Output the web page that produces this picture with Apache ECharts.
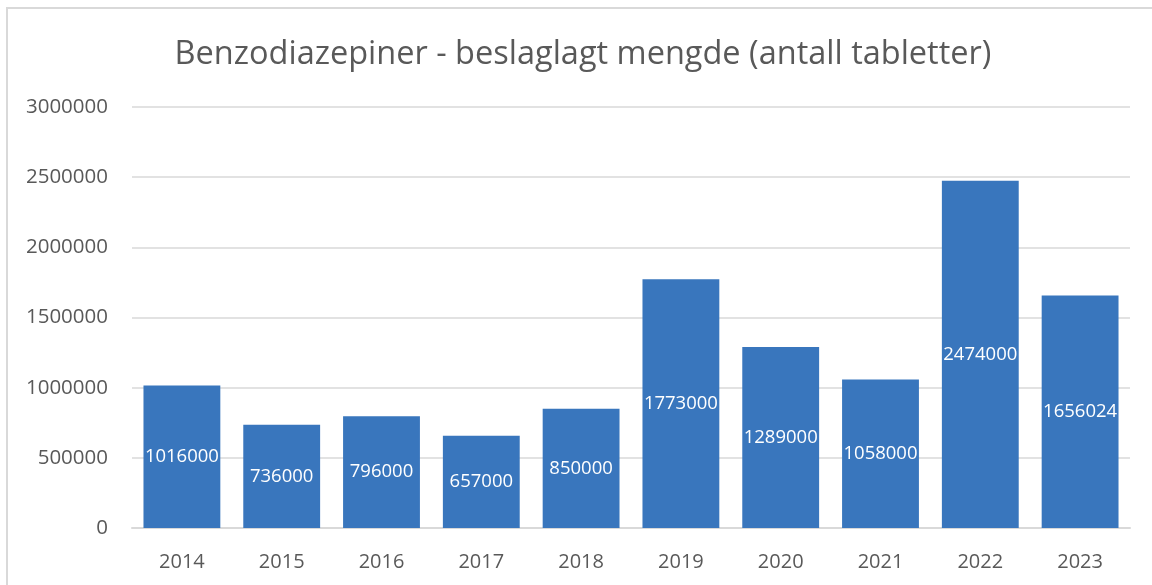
<!DOCTYPE html>
<html>
<head>
<meta charset="utf-8">
<script src="https://cdn.jsdelivr.net/npm/echarts@6/dist/echarts.min.js"></script>
<style>
  html, body { margin: 0; padding: 0; background: #fff; }
  #chart { width: 1152px; height: 585px; }
</style>
</head>
<body>
<div id="chart"></div>
<script>
const years = ["2014", "2015", "2016", "2017", "2018", "2019", "2020", "2021", "2022", "2023"];
const seized = [1016000, 736000, 796000, 657000, 850000, 1773000, 1289000, 1058000, 2474000, 1656024];
const chartTitle = "Benzodiazepiner - beslaglagt mengde (antall tabletter)";

const textGrey = "#595959";
const font = "Open Sans";

const chart = echarts.init(document.getElementById("chart"));
chart.setOption({
  animation: false,
  title: {
    text: chartTitle,
    left: 578,
    textAlign: "center",
    top: 33,
    textStyle: { color: textGrey, fontSize: 32.5, fontWeight: "normal", fontFamily: font },
  },
  graphic: [
    {
      type: "rect",
      shape: { x: 7, y: 8, width: 1200, height: 600 },
      style: { fill: "none", stroke: "#d9d9d9", lineWidth: 2 },
      silent: true,
    },
  ],
  grid: { left: 132, right: 22, top: 107, bottom: 57 },
  xAxis: {
    type: "category",
    data: years,
    axisLine: { lineStyle: { color: "#d9d9d9", width: 2 } },
    axisTick: { show: false },
    axisLabel: { color: textGrey, fontSize: 20, fontFamily: font, margin: 24 },
  },
  yAxis: {
    type: "value",
    min: 0,
    max: 3000000,
    interval: 500000,
    axisLine: { show: false },
    axisTick: { show: false },
    splitLine: { lineStyle: { color: "#d9d9d9", width: 1.5 } },
    axisLabel: {
      color: textGrey,
      fontSize: 20.5,
      fontFamily: font,
      margin: 24,
      formatter: (v) => String(v),
    },
  },
  series: [
    {
      type: "bar",
      data: seized,
      barWidth: "77%",
      itemStyle: { color: "#3976bd" },
      label: {
        show: true,
        position: "inside",
        color: "#fff",
        fontSize: 18.5,
        fontFamily: font,
      },
    },
  ],
});
</script>
</body>
</html>
